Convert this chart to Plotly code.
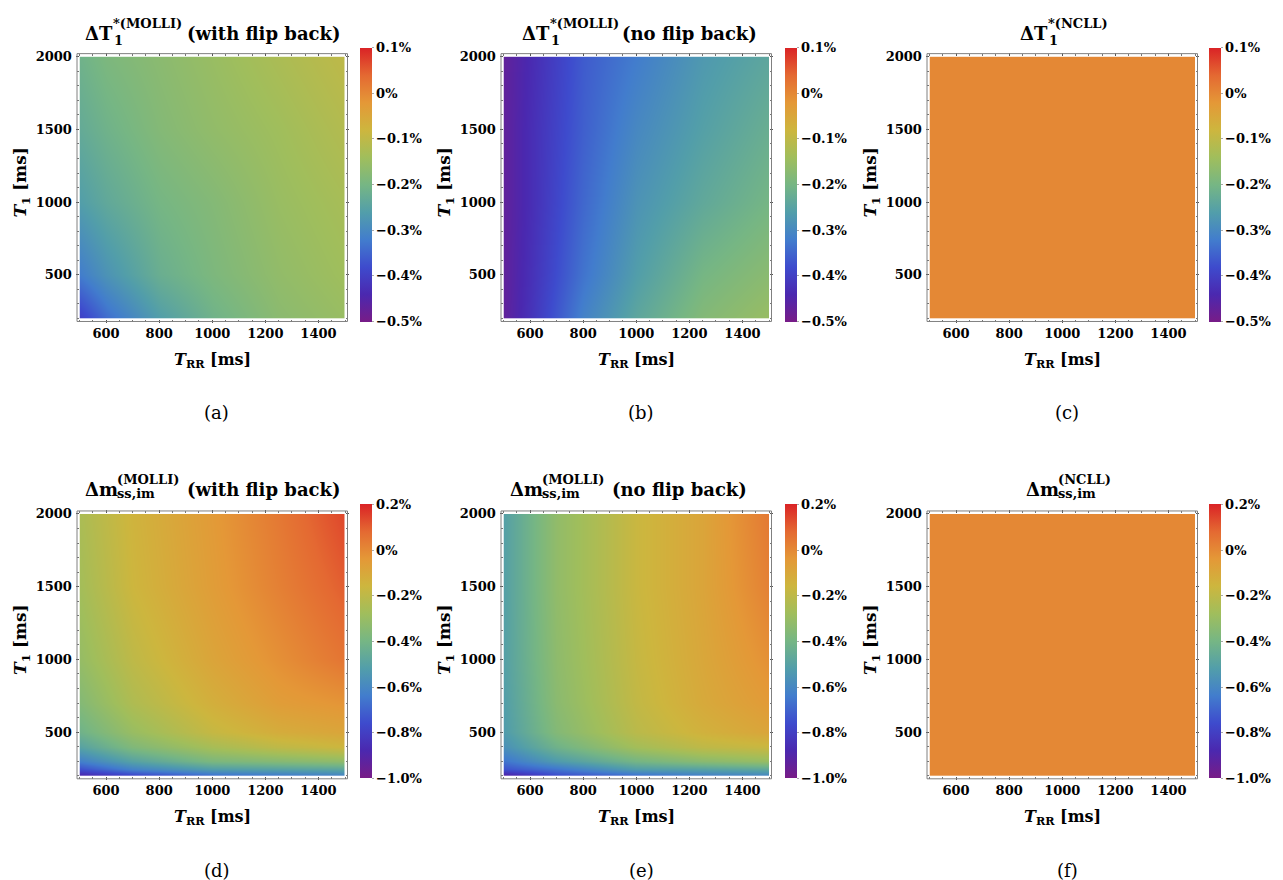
import numpy as np
import plotly.graph_objects as go

W, H = 1283, 880
SERIF = "DejaVu Serif"

# ------------------------------------------------------------------ data (values in %)
TRR_top = [500, 600, 800, 1000, 1250, 1500]          # T_RR [ms]
T1_top = [200, 500, 1000, 1500, 2000]                 # T_1 [ms]

dT1_molli_flipback = [
    [-0.40, -0.34, -0.26, -0.21, -0.17, -0.15],
    [-0.32, -0.28, -0.22, -0.19, -0.16, -0.14],
    [-0.26, -0.235, -0.20, -0.18, -0.15, -0.13],
    [-0.23, -0.21, -0.18, -0.16, -0.14, -0.115],
    [-0.21, -0.19, -0.17, -0.15, -0.125, -0.10],
]
dT1_molli_noflipback = [
    [-0.47, -0.42, -0.31, -0.24, -0.18, -0.15],
    [-0.47, -0.425, -0.33, -0.26, -0.20, -0.17],
    [-0.47, -0.43, -0.345, -0.28, -0.235, -0.20],
    [-0.47, -0.43, -0.355, -0.30, -0.255, -0.22],
    [-0.47, -0.435, -0.36, -0.32, -0.27, -0.24],
]

TRR_bot = [500, 700, 1000, 1250, 1500]
T1_bot = [200, 250, 300, 400, 500, 700, 1000, 1500, 2000]

dm_molli_flipback = [
    [-0.90, -0.80, -0.69, -0.66, -0.63],
    [-0.75, -0.62, -0.52, -0.50, -0.48],
    [-0.63, -0.50, -0.38, -0.35, -0.32],
    [-0.50, -0.37, -0.26, -0.20, -0.16],
    [-0.42, -0.30, -0.18, -0.12, -0.09],
    [-0.36, -0.24, -0.13, -0.06, -0.03],
    [-0.31, -0.20, -0.09, -0.02, 0.05],
    [-0.27, -0.16, -0.06, 0.02, 0.10],
    [-0.25, -0.15, -0.05, 0.04, 0.14],
]
dm_molli_noflipback = [
    [-0.93, -0.77, -0.69, -0.64, -0.62],
    [-0.74, -0.66, -0.52, -0.50, -0.47],
    [-0.66, -0.53, -0.40, -0.34, -0.30],
    [-0.57, -0.42, -0.27, -0.20, -0.17],
    [-0.53, -0.36, -0.21, -0.14, -0.09],
    [-0.52, -0.34, -0.19, -0.11, -0.05],
    [-0.51, -0.33, -0.18, -0.10, -0.02],
    [-0.51, -0.32, -0.17, -0.09, 0.02],
    [-0.51, -0.32, -0.17, -0.09, 0.04],
]

TRR_ncll = [500, 1500]
T1_ncll = [200, 2000]
dT1_ncll = [[0.0, 0.0], [0.0, 0.0]]
dm_ncll = [[0.0, 0.0], [0.0, 0.0]]

x_tickvals = [600, 800, 1000, 1200, 1400]
y_tickvals = [500, 1000, 1500, 2000]

cb_top_vals = [-0.5, -0.4, -0.3, -0.2, -0.1, 0.0, 0.1]
cb_top_text = ["−0.5%", "−0.4%", "−0.3%", "−0.2%", "−0.1%", "0%", "0.1%"]
cb_bot_vals = [-1.0, -0.8, -0.6, -0.4, -0.2, 0.0, 0.2]
cb_bot_text = ["−1.0%", "−0.8%", "−0.6%", "−0.4%", "−0.2%", "0%", "0.2%"]

# ------------------------------------------------------------------ style
RAINBOW = [
    [0.00, "rgb(120,28,135)"],
    [0.10, "rgb(75,40,175)"],
    [0.20, "rgb(62,75,205)"],
    [0.30, "rgb(66,125,205)"],
    [0.40, "rgb(82,158,170)"],
    [0.50, "rgb(118,182,132)"],
    [0.60, "rgb(160,190,92)"],
    [0.70, "rgb(205,182,62)"],
    [0.80, "rgb(228,152,55)"],
    [0.90, "rgb(228,105,50)"],
    [1.00, "rgb(218,35,38)"],
]

def px(xp):
    return xp / W

def py(yp):
    return 1 - yp / H

COL_X = [79.5, 503.5, 929.5]     # left edge of plot area (px)
PW = 265.5
ROW_Y = [50, 511]                # top edge of plot area (px)
PH = 264
CB_X = [360, 785, 1209]
CB_YC = [179, 639.5]

panels = [
    dict(r=0, c=0, x=TRR_top, y=T1_top, z=dT1_molli_flipback),
    dict(r=0, c=1, x=TRR_top, y=T1_top, z=dT1_molli_noflipback),
    dict(r=0, c=2, x=TRR_ncll, y=T1_ncll, z=dT1_ncll),
    dict(r=1, c=0, x=TRR_bot, y=T1_bot, z=dm_molli_flipback),
    dict(r=1, c=1, x=TRR_bot, y=T1_bot, z=dm_molli_noflipback),
    dict(r=1, c=2, x=TRR_ncll, y=T1_ncll, z=dm_ncll),
]

fig = go.Figure()
layout = dict(
    width=W, height=H, autosize=False,
    margin=dict(l=0, r=0, t=0, b=0),
    paper_bgcolor="white", plot_bgcolor="white",
    showlegend=False,
)
shapes = []
annotations = []

tickfont = dict(family=SERIF, size=13, color="black", weight="bold")

for i, p in enumerate(panels, start=1):
    r, c = p["r"], p["c"]
    L = COL_X[c]
    T = ROW_Y[r]
    if r == 0:
        tv, tt = cb_top_vals, cb_top_text
    else:
        tv, tt = cb_bot_vals, cb_bot_text
    fig.add_trace(go.Heatmap(
        x=p["x"], y=p["y"], z=p["z"],
        zsmooth="best", colorscale=RAINBOW, zmin=tv[0], zmax=tv[-1],
        xaxis=f"x{i}", yaxis=f"y{i}",
        colorbar=dict(
            x=px(CB_X[c]), xanchor="left", xpad=0,
            y=py(CB_YC[r]), yanchor="middle", ypad=0,
            thickness=12, thicknessmode="pixels",
            len=274, lenmode="pixels",
            tickvals=tv, ticktext=tt,
            ticks="outside", ticklen=2, tickcolor="#aaaaaa", tickwidth=1,
            tickfont=tickfont, outlinewidth=0,
        ),
    ))
    sfx = "" if i == 1 else str(i)
    layout["xaxis" + sfx] = dict(
        domain=[px(L), px(L + PW)], anchor=f"y{i}",
        range=[500, 1500], tickvals=x_tickvals,
        ticks="outside", ticklen=3, tickcolor="#555555", tickwidth=1,
        mirror="ticks", showgrid=False, zeroline=False, showline=False,
        minor=dict(dtick=50, tick0=0, ticks="outside", ticklen=2, tickcolor="#777777", showgrid=False),
        tickfont=tickfont, ticklabelstandoff=0,
    )
    layout["yaxis" + sfx] = dict(
        domain=[py(T + PH), py(T)], anchor=f"x{i}",
        range=[200, 2000], tickvals=y_tickvals,
        ticks="outside", ticklen=3, tickcolor="#555555", tickwidth=1,
        mirror="ticks", showgrid=False, zeroline=False, showline=False,
        minor=dict(dtick=100, tick0=0, ticks="outside", ticklen=2, tickcolor="#777777", showgrid=False),
        tickfont=tickfont, ticklabelstandoff=1,
    )
    # frame
    shapes.append(dict(
        type="rect", xref="paper", yref="paper",
        x0=px(L - 2.5), x1=px(L + PW + 2.5), y0=py(T + PH + 3), y1=py(T - 3),
        line=dict(color="#808080", width=1), fillcolor="rgba(0,0,0,0)",
    ))
    # axis titles
    annotations.append(dict(
        text="<b><i>T</i><sub>RR</sub> [ms]</b>", xref="paper", yref="paper",
        x=px(L + PW / 2), y=py(T + 306), xanchor="center", yanchor="middle",
        showarrow=False, font=dict(family=SERIF, size=16, color="black"),
    ))
    annotations.append(dict(
        text="<b><i>T</i><sub>1</sub> [ms]</b>", xref="paper", yref="paper",
        x=px(L - 57.5), y=py(T + 127), xanchor="center", yanchor="middle",
        textangle=-90, showarrow=False, font=dict(family=SERIF, size=17, color="black"),
    ))
    # subfigure label
    annotations.append(dict(
        text="(" + "abcdef"[i - 1] + ")", xref="paper", yref="paper",
        x=px(L + 137.5), y=py(T + 359), xanchor="center", yanchor="middle",
        showarrow=False, font=dict(family=SERIF, size=18, color="black"),
    ))

# ------------------------------------------------------------------ titles (stacked sub/superscripts)
def piece(text, x, baseline, size, anchor="left"):
    annotations.append(dict(
        text=text, xref="paper", yref="paper",
        x=px(x), y=py(baseline - 0.346 * size), xanchor=anchor, yanchor="middle",
        showarrow=False, font=dict(family=SERIF, size=size, color="black", weight="bold"),
    ))

title_specs = [
    # main, x, sup, sub, tail, tail_left, baseline, sup_dx
    ("ΔT", 83, "*(MOLLI)", "1", "(with flip back)", 185, 33, 28),
    ("ΔT", 520, "*(MOLLI)", "1", "(no flip back)", 620, 33, 28),
    ("ΔT", 1018, "*(NCLL)", "1", None, None, 33, 28),
    ("Δm", 83, "(MOLLI)", "ss,im", "(with flip back)", 185, 493, 32),
    ("Δm", 508, "(MOLLI)", "ss,im", "(no flip back)", 610, 493, 32),
    ("Δm", 1024, "(NCLL)", "ss,im", None, None, 493, 32),
]
for main, x0, sup, sub, tail, tl, base, dx in title_specs:
    piece(main, x0, base, 18)
    if main == "ΔT":
        piece(sup, x0 + dx, base - 12, 13)
        piece(sub, x0 + dx + 1, base + 5, 13)
    else:
        piece(sup, x0 + dx, base - 12, 13)
        piece(sub, x0 + dx, base + 2, 13)
    if tail:
        piece(tail, tl, base, 18, anchor="left")

layout["shapes"] = shapes
layout["annotations"] = annotations
fig.update_layout(**layout)
fig.write_html(
    "out.html",
    config={"displayModeBar": False},
    post_script="document.body.style.margin='0px';document.body.style.overflow='hidden';",
)
